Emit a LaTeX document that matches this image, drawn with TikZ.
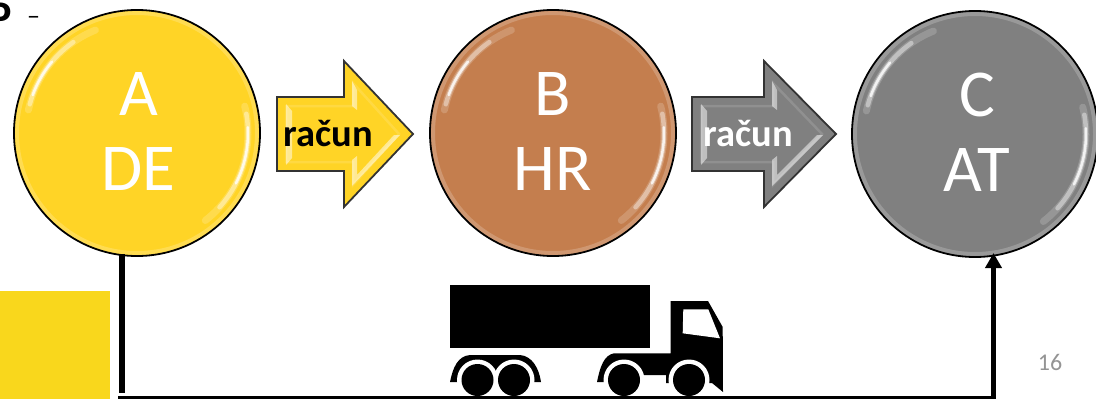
\documentclass[tikz,border=0pt]{standalone}
\usepackage{fontspec}
\setmainfont{Carlito}
\usetikzlibrary{arrows.meta}
\definecolor{yel}{HTML}{FFD426}
\definecolor{yelb}{HTML}{F9D71C}
\definecolor{bro}{HTML}{C47E4E}
\definecolor{gra}{HTML}{808080}
\tikzset{
  x=1pt,y=-1pt,
  ball/.style={circle,draw=black,line width=1.8pt,fill=#1,minimum size=246pt,inner sep=0pt,text=white,font=\fontsize{67}{76}\selectfont,align=center},
  arrowbody/.style={draw=black!80,line width=1.8pt,fill=#1,line join=miter},
  glossa/.style={white,line width=7pt,line cap=round,opacity=.18},
  glossb/.style={white,line width=4.5pt,line cap=round,opacity=.4},
  glossc/.style={white,line width=2.5pt,line cap=round,opacity=.8},
  rim/.style={white,line width=4pt,opacity=.2},
  bevel/.style={white,opacity=.5,draw=none},
  bevelsoft/.style={white,opacity=.13,line width=2.5pt,line join=miter},
  lbl/.style={font=\fontsize{38.5}{40}\selectfont\bfseries,inner sep=0pt,anchor=base},
  truckpart/.style={fill=black,draw=none},
  wire/.style={line width=#1,draw=black}
}
\newcommand{\ballgloss}[2]{%
  \begin{scope}[shift={(#1,#2)}]
    \draw[rim] (0,0) circle[radius=120];
    \draw[glossa] (-168:111) arc[start angle=-168,end angle=-112,radius=111];
    \draw[glossb] (-165:111) arc[start angle=-165,end angle=-125,radius=111];
    \draw[glossc] (-160:111) arc[start angle=-160,end angle=-140,radius=111];
    \draw[glossa] (-14:111) arc[start angle=-14,end angle=52,radius=111];
    \draw[glossb] (-10:111) arc[start angle=-10,end angle=42,radius=111];
    \draw[glossc] (-3:111) arc[start angle=-3,end angle=27,radius=111];
  \end{scope}}
\newcommand{\arrowshape}[3]{%
  (#1,97) -- (#2,97) -- (#2,61) -- (#3,134) -- (#2,207) -- (#2,171) -- (#1,171) -- cycle}
\newcommand{\arrowbevel}[3]{%
  \draw[bevelsoft] (#1+9,162) -- (#2+9,162) -- (#2+9,185) -- (#3-14,134) -- (#2+9,83) -- (#2+9,106) -- (#1+9,106) -- cycle;
  \fill[bevel] (#1+9,104) -- (#1+15,111) -- (#1+15,158) -- (#1+9,165) -- cycle;
  \fill[bevel] (#2+8,81) -- (#2+13,90) -- (#2+13,110) -- (#2+8,106) -- cycle;
  \fill[bevel] (#2+8,160) -- (#2+13,156) -- (#2+13,175) -- (#3-19,135) -- (#3-13,135) -- (#2+8,186) -- cycle;
}
\newcommand{\twolines}[3]{\hspace*{#1}\begin{tabular}{@{}c@{}}\rule{0pt}{62pt}#2\\[-1pt]#3\end{tabular}}
\begin{document}
\begin{tikzpicture}
\useasboundingbox (0,0) rectangle (1096,399);
\begin{scope}
\clip (0,0) rectangle (1096,399);
\fill[yelb] (0,291) rectangle (110,399);
\node[inner sep=0pt,anchor=base west] (cut) at (-12,31) {\fontsize{44}{44}\selectfont\bfseries P};
\node[inner sep=0pt,anchor=base west] (dash) at (27,24.5) {\fontsize{26}{26}\selectfont –};

\node[ball=yel] (A) at (137,133) {\twolines{3pt}{A}{DE}};
\node[ball=bro] (B) at (553,133) {\twolines{0pt}{B}{HR}};
\node[ball=gra] (C) at (975,134) {\twolines{4pt}{C}{AT}};
\ballgloss{137}{133}\ballgloss{553}{133}\ballgloss{975}{134}

\path[arrowbody=yel] \arrowshape{277}{344}{413};
\arrowbevel{277}{344}{413}
\path[arrowbody=gra] \arrowshape{692}{764}{836};
\arrowbevel{692}{764}{836}
\node[lbl,text=black] (r1) at (328.5,146) {račun};
\node[lbl,text=white] (r2) at (748,146) {račun};

% truck
\fill[truckpart] (450,285) rectangle (650,348);
\fill[truckpart]
  (670.7,301) -- (708,301) -- (722.7,327) -- (723,392) -- (712,383) -- (666,383)
  -- (666,375) -- (642,375) -- (642,383) -- (597,382)
  .. controls (600,367) and (604,355) .. (614,353.3) -- (670.7,353.3) -- cycle;
\fill[truckpart] (450,382) .. controls (453,367) and (458,356) .. (470,355) -- (520,355)
  .. controls (532,356) and (539,368) .. (541,382) -- cycle;
\fill[white] (683.3,309.3) -- (708.3,309.3) -- (720,338.3) -- (682.7,333.3) -- cycle;
\foreach \wx in {477.5,514,624,689} \fill[white] (\wx,380) circle[radius=20.5];
\foreach \wx in {477.5,514,624,689} \fill[truckpart] (\wx,380) circle[radius=16];

% connector
\coordinate (p1) at (122,254);
\coordinate (p2) at (122,393);
\coordinate (p3) at (118,397.5);
\coordinate (p4) at (995.5,397.5);
\coordinate (p5) at (993.5,253);
\coordinate (p6) at (993.5,399);
\draw[wire=6pt] (p1) -- (p2);
\draw[wire=3.5pt] (p3) -- (p4);
\draw[wire=5pt,-{Triangle[length=15pt,width=16pt]}] (p6) -- (p5);

\node[inner sep=0pt,text=black!42] (pg) at (1050,362) {\fontsize{24}{24}\selectfont 16};
\end{scope}
\end{tikzpicture}
\end{document}
